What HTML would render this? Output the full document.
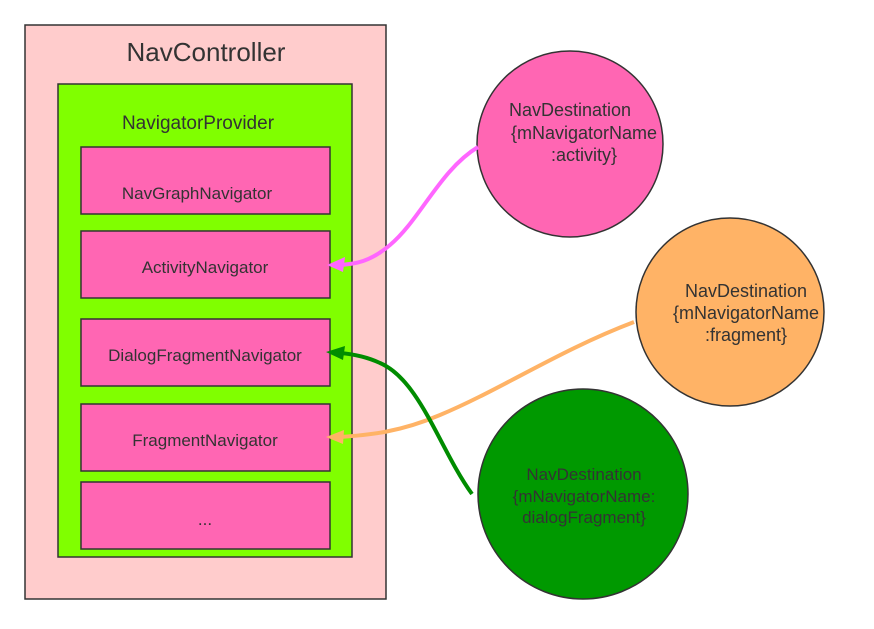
<!DOCTYPE html>
<html><head><meta charset="utf-8"><style>
body{margin:0;background:#fff;width:874px;height:624px;overflow:hidden}
svg text{font-family:"Liberation Sans",sans-serif;fill:#333}
</style></head><body>
<svg width="874" height="624" viewBox="0 0 874 624">
<rect x="25" y="25" width="361" height="574" fill="#ffcccc" stroke="#333" stroke-width="1.5"/>
<text x="206" y="61" font-size="26" text-anchor="middle">NavController</text>
<rect x="58" y="84" width="294" height="473" fill="#80ff00" stroke="#333" stroke-width="1.5"/>
<text x="198" y="129" font-size="19" text-anchor="middle">NavigatorProvider</text>
<g fill="#ff66b3" stroke="#333" stroke-width="1.5">
<rect x="81" y="147" width="249" height="67"/>
<rect x="81" y="231" width="249" height="67"/>
<rect x="81" y="319" width="249" height="67"/>
<rect x="81" y="404" width="249" height="67"/>
<rect x="81" y="482" width="249" height="67"/>
</g>
<g font-size="17" text-anchor="middle">
<text x="197" y="199">NavGraphNavigator</text>
<text x="205" y="273">ActivityNavigator</text>
<text x="205" y="361">DialogFragmentNavigator</text>
<text x="205" y="446">FragmentNavigator</text>
<text x="205" y="525">...</text>
</g>
<circle cx="570" cy="144" r="93" fill="#ff66b3" stroke="#333" stroke-width="1.5"/>
<circle cx="730" cy="312" r="94" fill="#ffb366" stroke="#333" stroke-width="1.5"/>
<circle cx="583" cy="494" r="105" fill="#009900" stroke="#333" stroke-width="1.5"/>
<g font-size="18" text-anchor="middle">
<text x="570" y="116">NavDestination</text><text x="584" y="139">{mNavigatorName</text><text x="584" y="161">:activity}</text>
<text x="746" y="297">NavDestination</text><text x="746" y="319">{mNavigatorName</text><text x="746" y="341">:fragment}</text>
<text x="584" y="480" font-size="17">NavDestination</text><text x="584" y="502" font-size="17">{mNavigatorName:</text><text x="584" y="523" font-size="17">dialogFragment}</text>
</g>
<g fill="none" stroke-width="4">
<path d="M478 147 C440 170 420 220 390 245 C370 262 355 264 340 265" stroke="#ff66ff"/>
<path d="M634 322 C560 350 500 390 440 415 C400 432 370 435 340 437" stroke="#ffb366"/>
<path d="M472 494 C440 450 420 380 380 363 C365 356 352 354 340 353" stroke="#008c00"/>
</g>
<polygon points="327,265 345,257 343,272" fill="#ff66ff"/>
<polygon points="326,437 344,430 343,444" fill="#ffb366"/>
<polygon points="326,352 345,346 343,360" fill="#008c00"/>
</svg>
</body></html>
